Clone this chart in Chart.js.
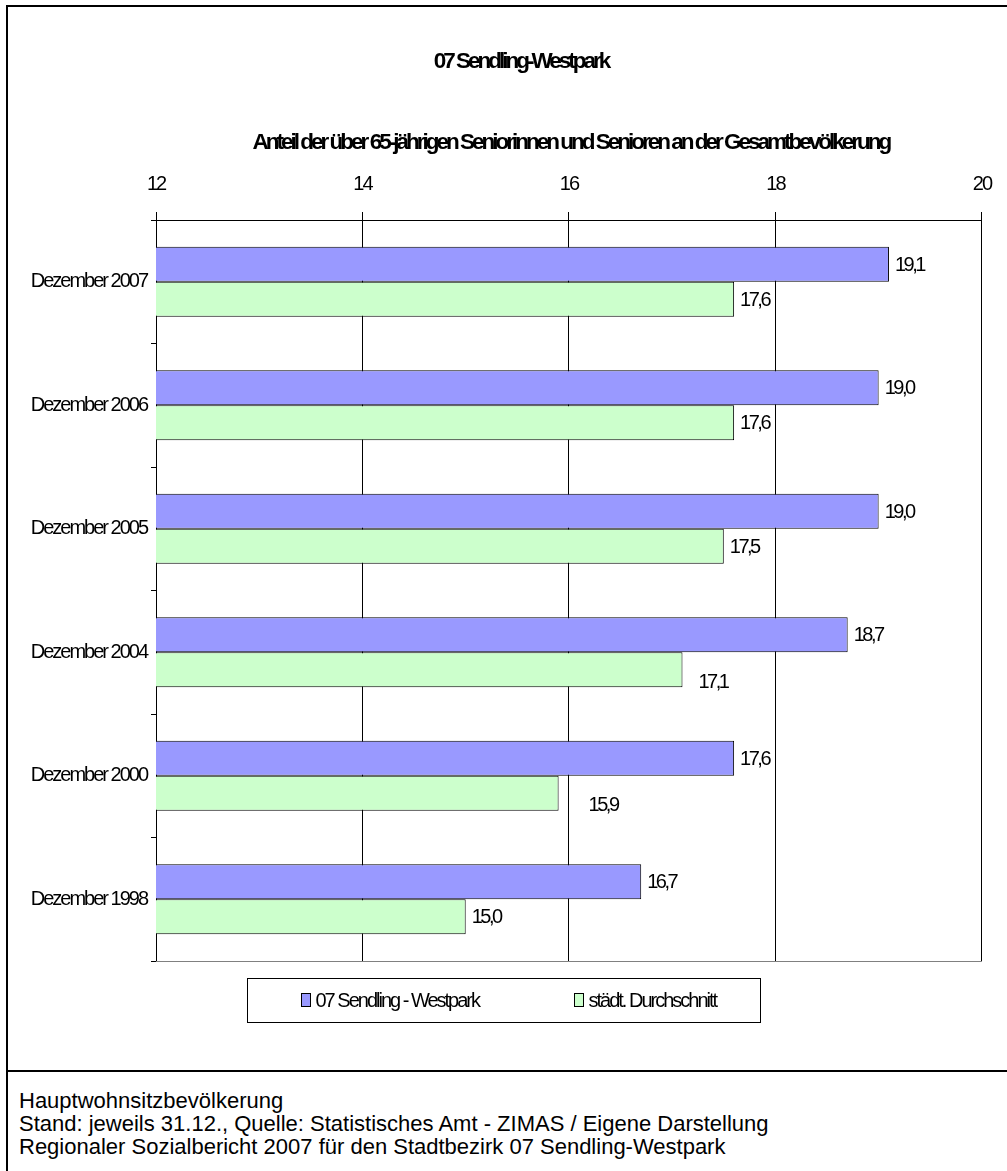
<!DOCTYPE html>
<html lang="de">
<head>
  <meta charset="UTF-8">
  <title>07 Sendling-Westpark</title>
  <script src="https://cdn.jsdelivr.net/npm/chart.js"></script>
  <style>
    html, body {
      margin: 0;
      padding: 0;
      background: #fff;
      overflow: hidden;
    }

    body {
      position: relative;
      width: 1007px;
      height: 1171px;
      font-family: Arial, 'Liberation Sans', sans-serif;
      color: #000;
    }

    .frame {
      position: absolute;
      left: 6px;
      top: 5px;
      width: 1100px;
      height: 1300px;
      border-left: 2px solid #000;
      border-top: 2px solid #000;
    }

    .rule {
      position: absolute;
      left: 6px;
      top: 1070px;
      width: 1100px;
      height: 2px;
      background: #000;
    }

    .chart-wrap {
      position: absolute;
      left: 0;
      top: 0;
    }

    .notes {
      position: absolute;
      left: 19px;
      top: 1089px;
      font-size: 22px;
      line-height: 23px;
    }
  </style>
</head>
<body>

<div class="frame"></div>
<div class="rule"></div>
<div class="chart-wrap"><canvas id="seniorChart" width="1007" height="1070"></canvas></div>
<div class="notes" id="notes"></div>

<script>
  const chartTitle = '07 Sendling-Westpark';
  const chartSubtitle = 'Anteil der über 65-jährigen Seniorinnen und Senioren an der Gesamtbevölkerung';
  const categories = ['Dezember 2007', 'Dezember 2006', 'Dezember 2005', 'Dezember 2004', 'Dezember 2000', 'Dezember 1998'];
  const seriesNames = ['07 Sendling - Westpark', 'städt. Durchschnitt'];
  const westpark = [19.1, 19.0, 19.0, 18.7, 17.6, 16.7];
  const cityAverage = [17.6, 17.6, 17.5, 17.1, 15.9, 15.0];
  const xMin = 12, xMax = 20, xStep = 2;
  const notes = [
    'Hauptwohnsitzbevölkerung',
    'Stand: jeweils 31.12., Quelle: Statistisches Amt - ZIMAS / Eigene Darstellung',
    'Regionaler Sozialbericht 2007 für den Stadtbezirk 07 Sendling-Westpark'
  ];

  const FONT = 'Arial, "Liberation Sans", sans-serif';
  Chart.defaults.font.family = FONT;
  Chart.defaults.color = '#000';

  document.getElementById('notes').innerHTML = notes.join('<br>');

  // the original uses squeezed Excel text, so tighten all canvas text
  const tightText = {
    id: 'tightText',
    beforeUpdate(chart) { chart.ctx.letterSpacing = '-2px'; },
    beforeDraw(chart) { chart.ctx.letterSpacing = '-2px'; }
  };

  // title + subtitle, squeezed harder than the rest
  const chartTitles = {
    id: 'chartTitles',
    afterDraw(chart) {
      const ctx = chart.ctx;
      const a = chart.chartArea;
      ctx.save();
      ctx.font = 'bold 22.5px ' + FONT;
      ctx.letterSpacing = '-3px';
      ctx.fillStyle = '#000';
      ctx.textAlign = 'center';
      ctx.textBaseline = 'middle';
      ctx.fillText(chartTitle, 521, 62);
      ctx.fillText(chartSubtitle, (a.left + a.right) / 2 + 2, 143);
      ctx.restore();
    }
  };

  // grey bottom edge of the plot area
  const plotEdge = {
    id: 'plotEdge',
    beforeDatasetsDraw(chart) {
      const { ctx, chartArea: a } = chart;
      ctx.save();
      ctx.strokeStyle = '#808080';
      ctx.lineWidth = 1;
      ctx.beginPath();
      ctx.moveTo(a.left, Math.round(a.bottom) + 0.5);
      ctx.lineTo(a.right, Math.round(a.bottom) + 0.5);
      ctx.stroke();
      ctx.restore();
    }
  };

  const valueLabels = {
    id: 'valueLabels',
    afterDatasetsDraw(chart, args, opts) {
      const ctx = chart.ctx;
      const nudge = opts.nudge || {};
      ctx.save();
      ctx.font = '20px ' + FONT;
      ctx.letterSpacing = '-2.5px';
      ctx.fillStyle = '#000';
      ctx.textAlign = 'left';
      ctx.textBaseline = 'middle';
      chart.data.datasets.forEach((ds, i) => {
        chart.getDatasetMeta(i).data.forEach((bar, j) => {
          const txt = ds.data[j].toFixed(1).replace('.', ',');
          const [dx, dy] = nudge[i + ':' + j] || [0, 0];
          ctx.fillText(txt, bar.x + 6 + dx, bar.y + 1 + dy);
        });
      });
      ctx.restore();
    }
  };

  // Excel style legend in a framed box under the plot
  const boxedLegend = {
    id: 'boxedLegend',
    afterDraw(chart) {
      const ctx = chart.ctx;
      const a = chart.chartArea;
      const w = 513, h = 44;
      const left = Math.round(chart.width / 2 - w / 2) + 0.5;
      const top = Math.round(a.bottom) + 17 + 0.5;
      const offsets = [54, 327];
      ctx.save();
      ctx.strokeStyle = '#000';
      ctx.lineWidth = 1;
      ctx.strokeRect(left, top, w, h);
      ctx.font = '20px ' + FONT;
      ctx.letterSpacing = '-2px';
      ctx.textAlign = 'left';
      ctx.textBaseline = 'middle';
      chart.data.datasets.forEach((ds, i) => {
        const x = left + offsets[i];
        const y = top + h / 2;
        ctx.fillStyle = ds.backgroundColor;
        ctx.fillRect(x, y - 7, 9, 13);
        ctx.strokeRect(x, y - 7, 9, 13);
        ctx.fillStyle = '#000';
        ctx.fillText(ds.label, x + 14, y + 1);
      });
      ctx.restore();
    }
  };

  new Chart(document.getElementById('seniorChart').getContext('2d'), {
    type: 'bar',
    data: {
      labels: categories,
      datasets: [
        {
          label: seriesNames[0],
          data: westpark,
          backgroundColor: '#9999FF',
          borderColor: '#000',
          borderWidth: 1,
          categoryPercentage: 0.567,
          barPercentage: 1
        },
        {
          label: seriesNames[1],
          data: cityAverage,
          backgroundColor: '#CCFFCC',
          borderColor: '#000',
          borderWidth: 1,
          categoryPercentage: 0.567,
          barPercentage: 1
        }
      ]
    },
    options: {
      indexAxis: 'y',
      responsive: false,
      animation: false,
      // top padding leaves room for the two title lines drawn by chartTitles
      layout: { padding: { top: 156, right: 11, bottom: 109, left: 0 } },
      plugins: {
        legend: { display: false },
        tooltip: { enabled: false },
        // a couple of labels sit off the bar end in the original
        valueLabels: { nudge: { '1:3': [10, 12], '1:4': [24, 11] } }
      },
      scales: {
        x: {
          position: 'top',
          min: xMin,
          max: xMax,
          ticks: { stepSize: xStep, color: '#000', font: { size: 20 }, padding: 16 },
          grid: { color: '#000', lineWidth: 1, tickLength: 8 },
          border: { color: '#000' }
        },
        y: {
          ticks: { color: '#000', font: { size: 20 }, padding: 4 },
          grid: { drawOnChartArea: false, color: '#000', tickLength: 5 },
          border: { color: '#000' },
          afterFit(scale) { scale.width = 156; }
        }
      }
    },
    plugins: [tightText, chartTitles, plotEdge, valueLabels, boxedLegend]
  });
</script>

</body>
</html>
